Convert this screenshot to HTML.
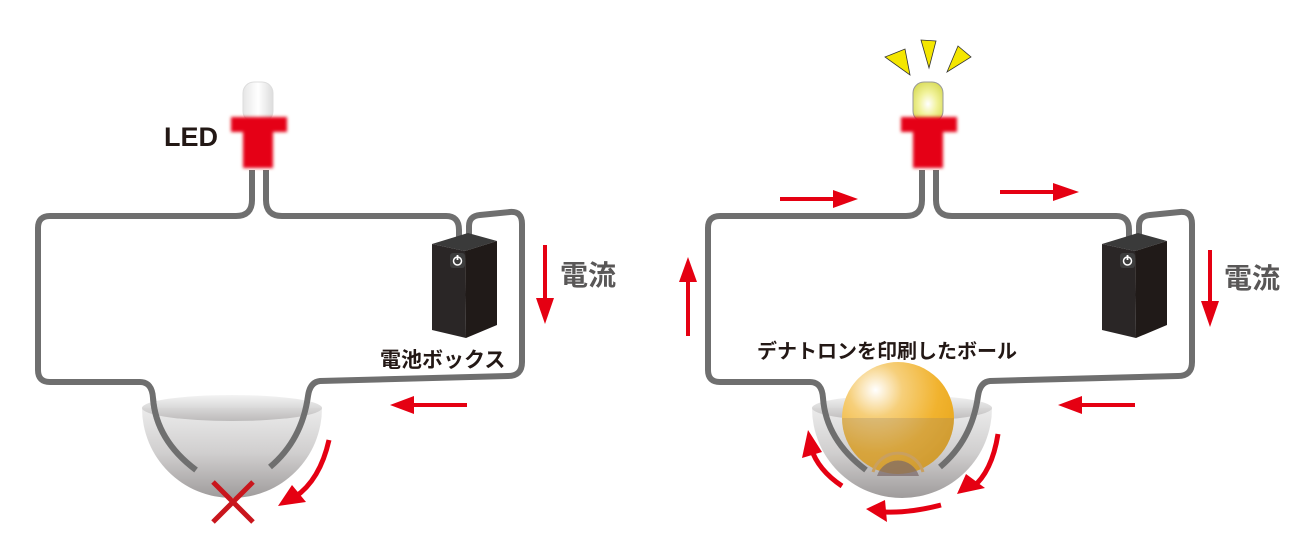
<!DOCTYPE html>
<html><head><meta charset="utf-8"><style>
html,body{margin:0;padding:0;background:#fff;width:1301px;height:556px;overflow:hidden}
text{font-family:"Liberation Sans","Noto Sans CJK JP",sans-serif;font-weight:bold}
</style></head><body>
<svg width="1301" height="556" viewBox="0 0 1301 556" xmlns="http://www.w3.org/2000/svg">
<defs>
<linearGradient id="bowl" x1="0" y1="0" x2="0" y2="1">
<stop offset="0" stop-color="#e8e8e8"/><stop offset="0.5" stop-color="#c8c6c6"/><stop offset="1" stop-color="#8e8a8a"/></linearGradient>
<linearGradient id="rim" x1="0" y1="0" x2="0" y2="1">
<stop offset="0" stop-color="#f2f2f2"/><stop offset="1" stop-color="#b8b6b6"/></linearGradient>
<radialGradient id="ball" cx="0.3" cy="0.25" r="0.8">
<stop offset="0" stop-color="#fff"/><stop offset="0.3" stop-color="#f6cf7a"/><stop offset="0.7" stop-color="#f1b32f"/><stop offset="1" stop-color="#e9a81e"/></radialGradient>
<radialGradient id="bulbOn" cx="0.5" cy="0.55" r="0.6">
<stop offset="0" stop-color="#fff"/><stop offset="0.5" stop-color="#f1f29a"/><stop offset="1" stop-color="#d9dc5a"/></radialGradient>
<linearGradient id="bulbOff" x1="0" y1="0" x2="1" y2="0">
<stop offset="0" stop-color="#e6e6e6"/><stop offset="0.5" stop-color="#fff"/><stop offset="1" stop-color="#dcdcdc"/></linearGradient>
<filter id="blur"><feGaussianBlur stdDeviation="1.5"/></filter>
<g id="circuit">
<!-- left wire -->
<path d="M252 170 V200 Q252 216 236 216 H50 Q38 216 38 228 V370 Q38 382 50 382 H140 Q152 382 153 398 Q156 440 196 470" fill="none" stroke="#6f6f6f" stroke-width="6"/>
<!-- right wire -->
<path d="M266 170 V200 Q266 216 282 216 H446 Q459 216 459 230 V238" fill="none" stroke="#6f6f6f" stroke-width="6"/>
<path d="M469 238 V226 Q469 216 480 215 L510 212 Q522 211 522 224 V362 Q522 376 508 376 L320 381 Q310 382 308 396 Q302 440 270 467" fill="none" stroke="#6f6f6f" stroke-width="6"/>
<!-- battery -->
<polygon points="432,244 468,233 497,241 465,251" fill="#3a3a3a"/>
<polygon points="432,244 465,251 466,338 432,330" fill="#2a2626"/>
<polygon points="465,251 497,241 497,325 466,338" fill="#201a18"/>
<rect x="450" y="253" width="15" height="15" rx="3" fill="#3d3d3d"/>
<circle cx="457.5" cy="261" r="4" fill="none" stroke="#fff" stroke-width="1.5"/>
<line x1="457.5" y1="255" x2="457.5" y2="260" stroke="#fff" stroke-width="1.8"/>
</g>
<g id="bowlg">
<path d="M142 408 A90 90 0 0 0 322 408 Z" fill="url(#bowl)" opacity="0.85"/>
<ellipse cx="232" cy="408" rx="90" ry="13" fill="url(#rim)" opacity="0.9"/>
</g>
</defs>

<!-- LEFT -->
<use href="#bowlg"/>
<use href="#circuit"/>
<path d="M153 398 Q156 440 196 470" fill="none" stroke="#6f6f6f" stroke-width="6" opacity="0.6"/>
<rect x="243" y="82" width="30" height="40" rx="11" fill="url(#bulbOff)" stroke="#ddd"/>
<g filter="url(#blur)" fill="#e50012">
<rect x="231" y="117" width="56" height="15"/><rect x="243" y="125" width="30" height="43"/></g>
<text x="164" y="146" font-size="27" fill="#231815">LED</text>
<text x="380" y="367" font-size="21" fill="#231815">電池ボックス</text>
<text x="560" y="285" font-size="28" fill="#595757">電流</text>
<!-- arrows left -->
<line x1="545" y1="245" x2="545" y2="300" stroke="#e50012" stroke-width="4"/>
<polygon points="536,298 554,298 545,324" fill="#e50012"/>
<line x1="467" y1="405" x2="412" y2="405" stroke="#e50012" stroke-width="4"/>
<polygon points="414,396 414,414 390,405" fill="#e50012"/>
<path d="M329 440 Q320 480 295 497" fill="none" stroke="#e50012" stroke-width="5"/>
<polygon points="278,506 292,485 306,502" fill="#e50012"/>
<path d="M213 482 L253 522 M253 482 L213 522" stroke="#c9161d" stroke-width="5"/>

<!-- RIGHT -->
<g transform="translate(670,0)">
<use href="#bowlg"/>
<circle cx="228" cy="418" r="56" fill="url(#ball)"/>
<path d="M172 418 A56 56 0 0 0 284 418 Z" fill="#8a7a6a" opacity="0.25"/>
<path d="M203 472 A26 26 0 0 1 253 472" fill="none" stroke="#c9a060" stroke-width="3"/>
<path d="M207 476 A22 22 0 0 1 249 476 Z" fill="#7a6868" opacity="0.7"/>
<use href="#circuit"/>
<rect x="243" y="82" width="30" height="40" rx="11" fill="url(#bulbOn)" stroke="#999"/>
<g filter="url(#blur)" fill="#e50012">
<rect x="231" y="117" width="56" height="15"/><rect x="243" y="125" width="30" height="43"/></g>
<polygon points="215,43 228,46 232,40" fill="none"/>
</g>
<polygon points="885,57 905,49 910,75" fill="#f4e600" stroke="#333" stroke-width="0.8"/>
<polygon points="921,40 936,41 929,68" fill="#f4e600" stroke="#333" stroke-width="0.8"/>
<polygon points="947,72 958,46 971,57" fill="#f4e600" stroke="#333" stroke-width="0.8"/>
<text x="757" y="358" font-size="20" fill="#231815">デナトロンを印刷したボール</text>
<text x="1224" y="288" font-size="28" fill="#595757">電流</text>
<!-- arrows right -->
<line x1="780" y1="199" x2="835" y2="199" stroke="#e50012" stroke-width="4"/>
<polygon points="833,190 833,208 858,199" fill="#e50012"/>
<line x1="1000" y1="192" x2="1055" y2="192" stroke="#e50012" stroke-width="4"/>
<polygon points="1053,183 1053,201 1079,192" fill="#e50012"/>
<line x1="688" y1="336" x2="688" y2="280" stroke="#e50012" stroke-width="4"/>
<polygon points="679,282 697,282 688,257" fill="#e50012"/>
<line x1="1210" y1="250" x2="1210" y2="303" stroke="#e50012" stroke-width="4"/>
<polygon points="1201,301 1219,301 1210,327" fill="#e50012"/>
<line x1="1135" y1="405" x2="1080" y2="405" stroke="#e50012" stroke-width="4"/>
<polygon points="1082,396 1082,414 1058,405" fill="#e50012"/>
<path d="M998 434 Q992 472 972 488" fill="none" stroke="#e50012" stroke-width="5"/>
<polygon points="957,494 966,474 985,488" fill="#e50012"/>
<path d="M941 505 Q910 513 885 512" fill="none" stroke="#e50012" stroke-width="5"/>
<polygon points="866,509 885,500 887,522" fill="#e50012"/>
<path d="M842 486 Q818 470 811 448" fill="none" stroke="#e50012" stroke-width="5"/>
<polygon points="802,458 808,430 822,452" fill="#e50012"/>
</svg>
</body></html>
